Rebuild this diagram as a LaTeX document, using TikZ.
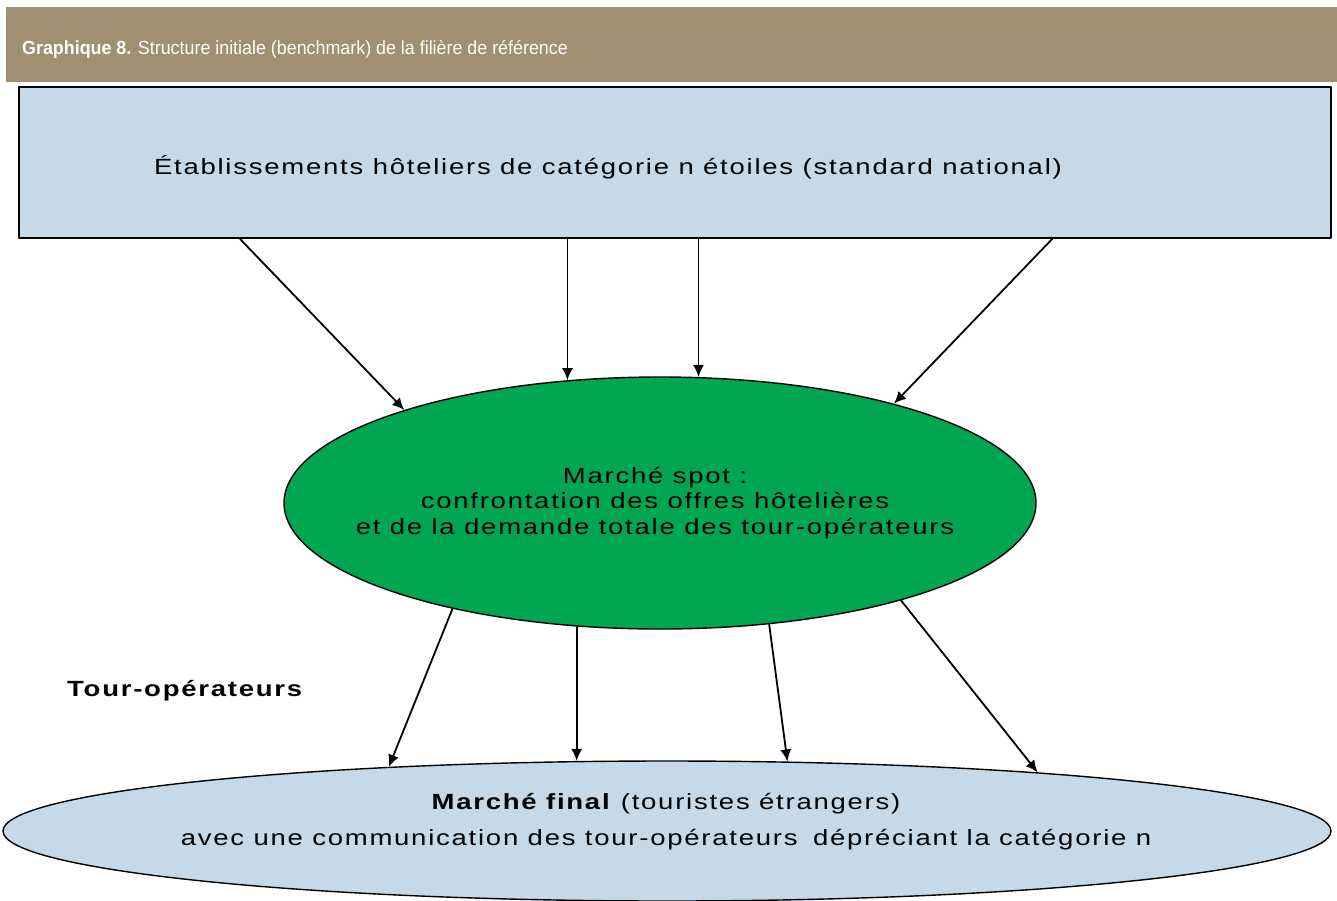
\documentclass[tikz,border=0pt]{standalone}
\usepackage{fontspec}
\setmainfont{Liberation Sans}
\newfontfamily\headfont[FakeStretch=0.94]{Liberation Sans}
\newfontfamily\widefont[FakeStretch=1.25,LetterSpace=8.0]{Liberation Sans}
\usetikzlibrary{shapes.geometric,arrows.meta,calc}

\definecolor{headbrown}{RGB}{161,143,113}
\definecolor{paleblue}{RGB}{197,217,232}
\definecolor{spotgreen}{RGB}{0,166,81}

\begin{document}
\begin{tikzpicture}[x=1pt,y=1pt, line cap=round, line join=round,
  arr/.style={-{Latex[length=12pt,width=11pt]}, line width=1.8pt},
  bubble/.style={ellipse, draw, inner sep=0pt}]

% -----------------------------
% Parameters
% -----------------------------
\def\txtsize{\fontsize{22}{26}\selectfont}

% Page frame (pixels of the reference)
\useasboundingbox (0,0) rectangle (1337,-900);

% -----------------------------
% Title band
% -----------------------------
\fill[headbrown] (6,-7) rectangle (1337,-82);
\node[anchor=base west, inner sep=0pt, text=white,
      font=\headfont\fontsize{19}{22}\selectfont] (title) at (22,-54)
  {\textbf{Graphique 8.} Structure initiale (benchmark) de la filière de référence};

% -----------------------------
% Hotels (top box)
% -----------------------------
\node[draw, line width=2pt, fill=paleblue, anchor=north west, inner sep=0pt,
      minimum width=1312, minimum height=151] (hotels) at (18,-86) {};
\node[font=\widefont\txtsize, anchor=base] (hotelstext) at (608,-174)
  {Établissements hôteliers de catégorie n étoiles (standard national)};

% -----------------------------
% Spot market (green ellipse)
% -----------------------------
\node[bubble, line width=1.4pt, fill=spotgreen,
      minimum width=752, minimum height=252] (spot) at (660,-503) {};
\node[align=center, font=\widefont\fontsize{22}{25.5}\selectfont] (spottext) at (655,-503)
  {Marché spot :\\confrontation des offres hôtelières\\et de la demande totale des tour-opérateurs};

% -----------------------------
% Final market (bottom ellipse)
% -----------------------------
\node[bubble, line width=1.4pt, fill=paleblue,
      minimum width=1328, minimum height=140] (final) at (667,-831) {};
\node[align=center, font=\widefont\fontsize{22}{36}\selectfont] (finaltext) at (666,-822)
  {\textbf{Marché final} (touristes étrangers)\\
   avec une communication des tour-opérateurs\hspace{6pt} dépréciant la catégorie n};

\node[anchor=base west, inner sep=0pt, font=\widefont\bfseries\fontsize{22}{24}\selectfont]
  (tourop) at (67,-696) {Tour-opérateurs};

% -----------------------------
% Hotels -> spot market
% -----------------------------
\draw[arr] ($(hotels.south west)!0.169!(hotels.south east)$) -- (spot.160.4);
\draw[arr] (hotels.south -| spot.127.9) -- (spot.127.9);
\draw[arr] (hotels.south -| spot.73.5) -- (spot.73.5);
\draw[arr] ($(hotels.south west)!0.787!(hotels.south east)$) -- (spot.23.4);

% -----------------------------
% Spot market -> final market
% -----------------------------
\draw[arr] (spot.207.9) -- (final.167.2);
\draw[arr] (spot.236.6) -- (spot.236.6 |- final.141.7);
\draw[arr] (spot.312.8) -- (final.30.5);
\draw[arr] (spot.338.7) -- (final.9.0);

\end{tikzpicture}
\end{document}
